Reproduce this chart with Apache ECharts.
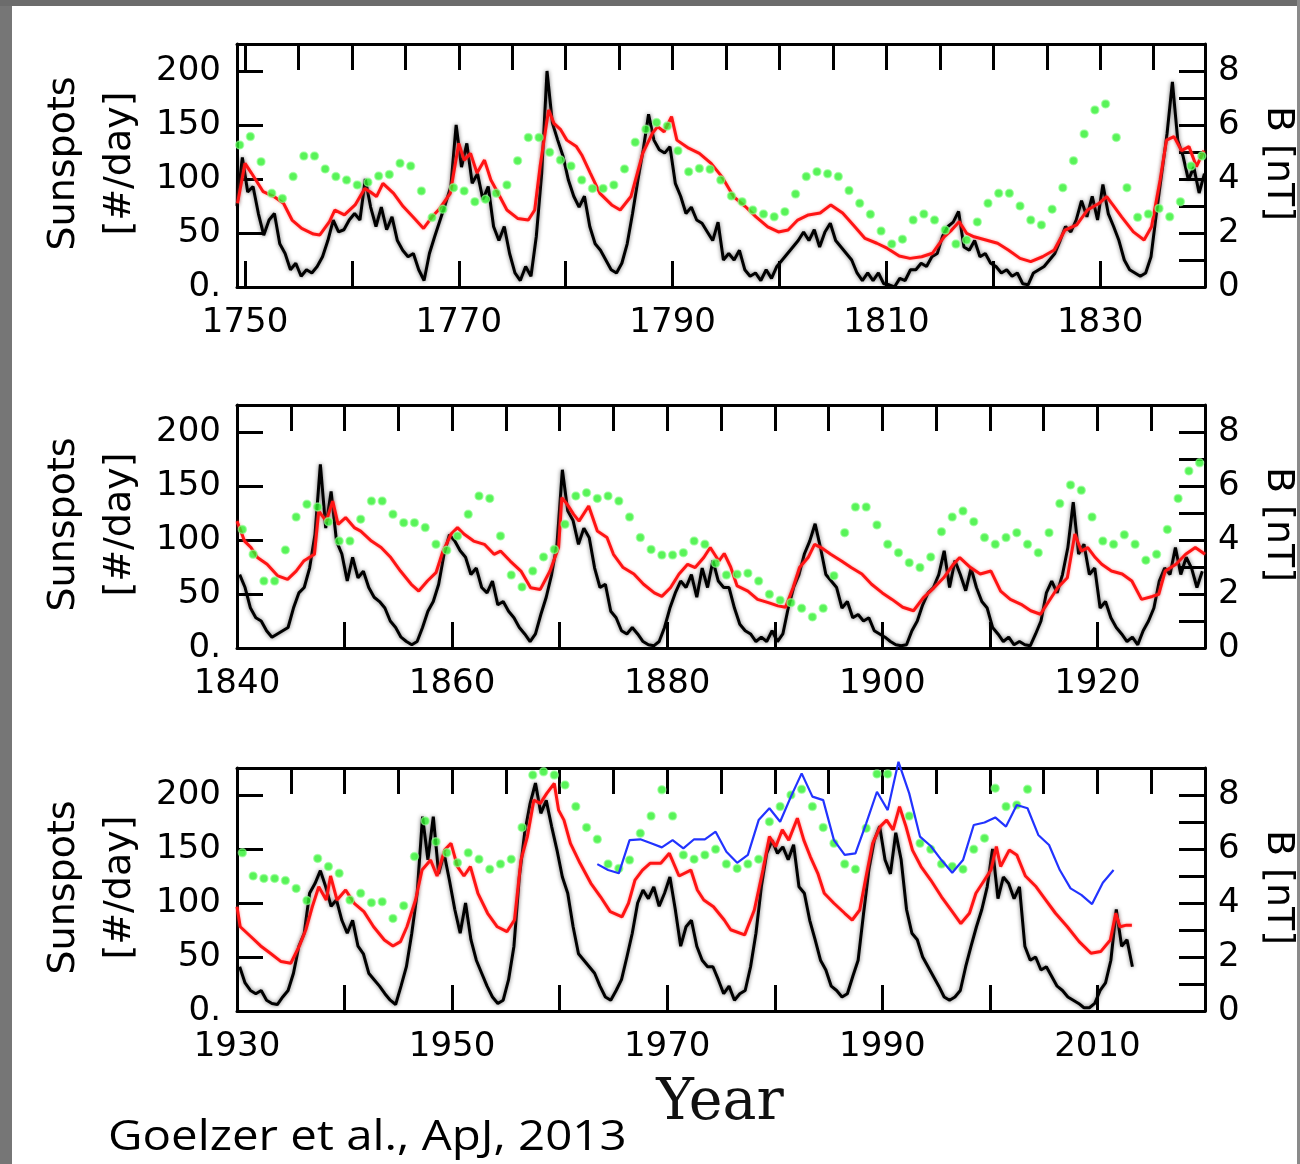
<!DOCTYPE html>
<html><head><meta charset="utf-8">
<script src="https://cdn.jsdelivr.net/npm/echarts@6/dist/echarts.min.js"></script>
<style>html,body{margin:0;padding:0;background:#fff}#c{width:1300px;height:1164px}</style>
</head><body><div id="c"></div>
<script>
// ---------------- DATA ----------------
// Sunspot number (#/day), sampled every half year starting at the given year
const sunspotStart = [1749.25, 1840.25, 1930.25];
const sunspots1 = [
75,120, 88,93, 68,48, 62,68, 40,31, 16,22, 10,16, 13,19, 28,43, 62,51,
53,62, 68,62, 100,74, 56,74, 53,65, 43,34, 28,31, 16,6, 31,47, 62,77,
93,150, 111,133, 96,105, 81,93, 56,43, 56,31, 13,6, 19,10, 47,105, 200,152,
136,121, 99,84, 74,84, 56,40, 34,25, 16,13, 22,40, 68,99, 127,160, 136,127,
124,130, 96,84, 68,74, 62,59, 51,43, 60,25, 31,25, 34,16, 10,13, 6,16,
8,19, 25,31, 37,43, 51,43, 53,37, 51,59, 43,37, 31,25, 13,6, 13,6,
13,3, 2,0, 8,6, 16,16, 22,19, 28,31, 47,56, 60,70, 37,34, 43,28,
31,22, 19,13, 16,10, 13,3, 2,13, 16,19, 25,31, 43,56, 51,62, 80,65,
84,62, 95,68, 56,43, 25,16, 13,10, 13,28, 68,105, 142,190, 136,121, 99,111,
87,105
];
const sunspots2 = [
68,56, 37,28, 25,16, 10,13, 16,19, 37,51, 56,74, 105,170, 111,145, 99,87,
62,84, 65,71, 56,47, 43,37, 25,19, 10,6, 3,6, 19,34, 43,59, 87,105,
99,90, 84,68, 74,56, 51,62, 40,43, 34,28, 19,13, 6,13, 31,47, 68,96,
165,127, 118,96, 111,102, 74,56, 59,34, 28,16, 13,19, 13,6, 3,2, 6,19,
37,51, 62,56, 68,47, 74,56, 81,62, 56,56, 37,22, 16,13, 6,10, 6,16,
6,13, 37,56, 68,87, 99,115, 93,68, 62,56, 37,43, 28,31, 25,28, 16,13,
10,6, 3,2, 3,16, 25,40, 51,56, 68,90, 56,81, 68,53, 74,56, 43,37,
19,13, 6,10, 3,6, 3,2, 13,25, 51,62, 51,68, 93,135, 87,96, 68,74,
37,43, 28,19, 13,6, 10,3, 16,25, 37,62, 74,68, 93,68, 84,74, 56,71
];
const sunspots3 = [
41,26, 19,16, 19,10, 7,6, 13,19, 35,60, 72,109, 118,130, 115,97, 103,84,
72,84, 60,53, 35,29, 23,16, 10,6, 23,41, 72,109, 180,140, 180,127, 146,121,
94,72, 100,66, 47,35, 23,13, 7,10, 29,60, 124,165, 192,211, 183,195, 171,149,
124,109, 78,53, 47,41, 35,23, 13,10, 19,29, 50,72, 100,112, 104,115, 97,109,
124,94, 60,78, 84,60, 47,41, 41,29, 16,23, 10,16, 19,41, 72,115, 146,158,
146,152, 140,154, 115,109, 84,66, 47,38, 23,19, 13,16, 32,47, 90,131, 158,171,
140,127, 165,140, 94,72, 66,50, 41,32, 23,13, 10,13, 19,41, 60,78, 94,115,
150,104, 124,118, 104,115, 60,47, 50,38, 41,32, 23,19, 13,10, 7,3, 3,7,
19,26, 47,94, 60,66, 41
];

// Modelled field B (nT), [year, value]
const red1 = [
[1749.3,3.10],[1750.0,4.58],[1750.6,4.22],[1751.7,3.53],[1752.7,3.35],[1753.6,3.10],[1754.4,2.48],[1755.3,2.17],[1756.4,1.96],[1757.0,1.93],
[1757.9,2.42],[1758.4,2.85],[1759.3,2.67],[1760.3,3.04],[1761.2,3.65],[1761.7,3.53],[1762.3,3.35],[1762.9,3.84],[1763.9,3.47],[1764.8,2.98],
[1765.7,2.60],[1766.7,2.17],[1767.5,2.60],[1768.2,2.90],[1769.2,3.47],[1770.0,5.32],[1770.5,4.70],[1771.1,4.95],[1771.7,4.22],[1772.4,4.70],
[1773.0,3.96],[1773.6,3.53],[1774.5,2.85],[1775.5,2.54],[1776.5,2.48],[1777.1,2.85],[1777.6,4.46],[1778.4,6.56],[1778.9,6.06],[1779.5,5.84],
[1780.1,5.44],[1781.0,5.20],[1781.5,4.89],[1782.3,4.22],[1783.2,3.47],[1784.3,3.04],[1785.1,2.85],[1786.1,3.35],[1786.7,4.22],[1787.2,4.95],
[1788.1,5.69],[1788.6,5.94],[1789.2,5.75],[1789.9,6.31],[1790.4,5.44],[1791.5,5.14],[1792.5,4.95],[1793.6,4.58],[1794.6,4.09],[1795.7,3.35],
[1796.8,2.98],[1797.8,2.60],[1798.9,2.23],[1799.9,2.04],[1800.8,2.11],[1801.7,2.48],[1802.7,2.67],[1803.8,2.74],[1804.8,3.04],[1805.9,2.74],
[1806.9,2.30],[1808.0,1.80],[1809.1,1.62],[1810.1,1.43],[1811.2,1.15],[1812.2,1.06],[1813.3,1.12],[1814.3,1.25],[1815.4,1.86],[1816.1,2.11],
[1816.8,2.42],[1817.5,1.99],[1818.2,1.86],[1819.3,1.74],[1820.4,1.62],[1821.4,1.37],[1822.5,1.06],[1823.5,0.94],[1824.6,1.12],[1825.7,1.37],
[1826.7,2.11],[1827.8,2.30],[1828.8,2.85],[1829.9,3.10],[1830.6,3.35],[1831.3,2.98],[1832.0,2.60],[1833.1,2.04],[1834.1,1.74],[1834.8,2.23],
[1835.6,3.96],[1836.2,5.44],[1836.9,5.57],[1837.6,5.05],[1838.3,5.20],[1839.0,4.46],[1839.7,5.05]
];
const red2 = [
[1840.0,4.70],[1840.7,3.96],[1841.3,3.72],[1841.9,3.35],[1842.8,3.10],[1843.8,2.67],[1844.7,2.54],[1845.5,2.85],[1846.2,3.22],[1847.2,3.47],
[1847.6,5.07],[1848.3,4.70],[1848.9,5.44],[1849.4,4.58],[1850.1,4.83],[1850.9,4.46],[1851.5,4.33],[1852.5,3.96],[1853.4,3.72],[1854.3,3.35],
[1855.2,2.85],[1856.2,2.36],[1856.9,2.11],[1857.7,2.48],[1858.5,2.79],[1859.1,3.53],[1859.9,4.22],[1860.5,4.46],[1861.1,4.22],[1862.0,3.96],
[1863.0,3.84],[1863.9,3.47],[1864.5,3.59],[1865.4,3.22],[1866.4,2.85],[1867.3,2.23],[1868.2,2.17],[1869.1,2.85],[1869.9,3.72],[1870.2,5.57],
[1870.7,5.32],[1871.3,4.95],[1871.8,4.70],[1872.7,5.26],[1873.5,4.33],[1874.4,4.09],[1875.0,3.47],[1875.9,2.98],[1876.9,2.74],[1877.8,2.36],
[1878.8,2.04],[1879.5,1.91],[1880.3,2.23],[1881.1,2.74],[1881.9,3.10],[1882.6,2.98],[1883.4,3.35],[1884.0,3.72],[1884.8,3.22],[1885.3,3.50],
[1885.9,3.00],[1886.5,2.30],[1887.5,2.11],[1888.4,1.80],[1889.4,1.68],[1890.3,1.56],[1891.0,1.51],[1891.7,2.23],[1892.3,2.98],[1893.1,3.35],
[1893.7,3.84],[1894.3,3.72],[1895.2,3.47],[1896.2,3.22],[1897.1,2.98],[1898.1,2.74],[1899.0,2.36],[1900.0,2.04],[1900.9,1.80],[1901.9,1.51],
[1902.9,1.38],[1903.8,1.86],[1904.8,2.23],[1905.7,2.60],[1906.6,3.10],[1907.2,3.35],[1908.2,2.98],[1909.1,2.74],[1910.1,2.85],[1911.0,2.11],
[1911.9,1.80],[1912.9,1.62],[1913.8,1.38],[1914.7,1.25],[1915.5,1.74],[1916.3,2.23],[1917.2,2.60],[1917.9,4.22],[1918.5,3.59],[1919.1,3.72],
[1919.8,3.35],[1920.4,3.10],[1921.3,2.85],[1922.3,2.74],[1923.2,2.48],[1924.1,1.80],[1925.1,1.91],[1925.7,1.99],[1926.3,2.85],[1927.3,3.10],
[1928.2,3.47],[1929.1,3.72],[1930.0,3.47]
];
const red3 = [
[1930.0,3.86],[1930.3,3.12],[1931.3,2.75],[1932.2,2.41],[1933.1,2.14],[1934.1,1.83],[1935.0,1.77],[1935.8,2.41],[1936.4,3.01],[1937.0,3.86],
[1937.6,4.60],[1938.3,4.11],[1938.7,5.00],[1939.3,4.11],[1940.1,4.48],[1940.9,3.99],[1941.8,3.68],[1942.7,3.12],[1943.7,2.63],[1944.5,2.41],
[1945.2,2.57],[1945.8,3.12],[1946.6,4.11],[1947.2,5.22],[1948.0,5.59],[1948.6,5.00],[1949.3,5.96],[1949.9,6.21],[1950.5,5.35],[1951.1,5.00],
[1951.7,5.35],[1952.4,4.36],[1953.3,3.62],[1954.2,3.12],[1955.1,2.94],[1955.8,3.37],[1956.4,5.59],[1957.0,6.46],[1957.6,7.81],[1958.2,7.69],
[1958.8,8.06],[1959.5,8.43],[1959.9,7.44],[1960.4,7.07],[1961.0,6.21],[1961.9,5.47],[1962.9,4.73],[1963.8,4.23],[1964.7,3.68],[1965.8,3.49],
[1966.4,3.99],[1967.0,4.85],[1967.7,5.22],[1968.4,5.47],[1969.4,5.47],[1970.2,5.84],[1971.1,5.00],[1972.2,5.22],[1972.8,4.48],[1973.4,4.11],
[1974.3,3.86],[1975.3,3.37],[1975.9,3.01],[1977.2,2.82],[1978.1,3.74],[1978.9,5.22],[1979.5,6.46],[1980.1,6.09],[1980.7,6.71],[1981.3,6.33],
[1982.1,7.14],[1982.7,6.33],[1983.3,5.72],[1984.0,5.10],[1984.6,4.36],[1985.5,3.99],[1986.5,3.62],[1987.2,3.37],[1987.9,3.74],[1988.5,5.00],
[1989.1,6.21],[1989.8,6.83],[1990.4,7.07],[1991.0,6.71],[1991.6,7.57],[1992.2,6.83],[1992.8,5.96],[1993.6,5.35],[1994.5,4.85],[1995.5,4.23],
[1996.4,3.74],[1997.3,3.24],[1998.1,3.62],[1998.7,4.36],[1999.5,4.85],[2000.1,5.22],[2000.6,6.09],[2001.0,5.35],[2001.8,5.96],[2002.5,5.78],
[2003.3,5.00],[2004.3,4.60],[2005.2,4.11],[2006.1,3.62],[2007.2,3.12],[2008.3,2.57],[2009.4,2.14],[2010.3,2.20],[2011.2,2.63],[2011.7,3.62],
[2012.1,3.12],[2012.7,3.18],[2013.2,3.18]
];

// Geomagnetic B reconstruction (nT), one per year (mid-year)
const greenStart = [1749, 1840, 1930];
const green1 = [
5.26,5.57,4.64,3.47,3.28,4.09,4.85,4.85,4.37,4.09,
3.96,3.78,3.88,4.11,4.17,4.58,4.48,3.56,2.57,2.88,
3.68,3.56,3.16,3.25,3.47,3.78,4.68,5.54,5.54,4.99,
4.70,4.48,3.96,3.65,3.65,3.78,4.37,5.36,5.84,6.09,
5.96,5.05,4.27,4.39,4.36,3.96,3.37,3.16,2.85,2.70,
2.60,2.79,3.44,4.09,4.27,4.19,4.09,3.57,3.10,2.69,
2.07,1.59,1.77,2.48,2.70,2.48,2.11,1.59,1.74,2.41,
3.10,3.47,3.47,3.00,2.48,2.30,2.88,3.68,4.68,5.67,
6.56,6.78,5.54,3.68,2.58,2.70,2.91,2.60,3.16,4.48,
4.85
];
const green2 = [
4.39,3.47,2.48,2.48,3.63,4.85,5.32,5.22,4.68,3.96,
3.96,4.77,5.44,5.44,4.95,4.64,4.64,4.46,3.84,3.62,
4.15,4.95,5.63,5.54,4.15,2.70,2.26,2.85,3.37,3.65,
4.58,5.63,5.75,5.54,5.63,5.44,4.85,4.09,3.65,3.44,
3.44,3.53,3.96,3.84,3.14,2.70,2.73,2.77,2.48,1.99,
1.77,1.68,1.47,1.15,1.47,2.68,4.27,5.22,5.22,4.56,
3.84,3.53,3.16,2.98,3.37,4.31,4.85,5.07,4.68,4.09,
3.84,4.09,4.27,3.84,3.53,4.27,5.35,6.04,5.84,4.85,
3.96,3.84,4.19,3.84,3.25,3.47,4.39,5.54,6.56,6.86
];
const green3 = [
5.86,5.00,4.91,4.91,4.83,4.54,4.09,5.65,5.35,5.10,
4.11,4.36,4.01,4.05,3.43,3.90,5.72,7.04,6.27,5.86,
5.49,5.86,5.62,5.25,5.44,5.62,6.80,8.74,8.86,8.74,
8.37,7.57,6.80,6.36,5.44,5.28,5.59,6.58,7.22,8.19,
7.22,5.78,5.62,5.78,5.99,5.44,5.28,5.44,5.62,7.01,
7.57,8.00,8.21,7.57,6.80,6.21,5.44,5.25,6.77,8.78,
8.78,null,7.22,6.21,5.99,5.44,5.35,5.25,5.99,6.40,
8.25,7.57,7.63,8.21
];

// Measured B (nT), yearly means from 1963
const blueStart = 1963;
const blue = [
5.44,5.22,5.10,6.33,6.36,6.21,6.06,6.33,6.02,6.36,
6.36,6.64,5.90,5.49,5.78,7.07,7.51,7.01,7.94,8.80,
7.94,7.81,6.33,5.78,5.84,6.95,8.12,7.44,9.23,8.06,
6.46,6.11,5.59,5.12,5.59,6.89,6.98,7.17,6.83,7.63,
7.51,6.52,6.15,5.22,4.54,4.30,3.96,4.75,5.22
];

// Axis ranges and tick labels
const xRanges = [[1749.25, 1839.8], [1840, 1930], [1930, 2020]];
const xLabels = [[1750,1770,1790,1810,1830],[1840,1860,1880,1900,1920],[1930,1950,1970,1990,2010]];
const leftLabels = [0, 50, 100, 150, 200];
const rightTicks = [0, 1, 2, 3, 4, 5, 6, 7, 8];
const rightLabels = [0, 2, 4, 6, 8];

// ---------------- CHART ----------------
const sunspots = [sunspots1, sunspots2, sunspots3];
const reds = [red1, red2, red3];
const greens = [green1, green2, green3];
const tops = [44, 405, 768];
const H = 243;
const labelFont = 'DejaVu Sans';

function ticksBetween(min, max, step) {
  const out = [];
  for (let v = Math.ceil(min / step) * step; v <= max + 1e-9; v += step) out.push(v);
  return out;
}

const grid = [], xAxis = [], yAxis = [], series = [], graphic = [];
const axisLine = { show: true, onZero: false, lineStyle: { color: '#000', width: 3 } };
const tickStyle = { color: '#000', width: 3 };

for (let i = 0; i < 3; i++) {
  grid.push({ left: 237, top: tops[i], width: 968, height: H });
  const [mn, mx] = xRanges[i];
  xAxis.push({
    type: 'value', gridIndex: i, position: 'bottom', min: mn, max: mx,
    axisLine: axisLine, splitLine: { show: false },
    axisTick: { show: true, inside: true, length: 26, lineStyle: tickStyle, customValues: ticksBetween(mn, mx, 10) },
    axisLabel: { customValues: xLabels[i], color: '#000', fontFamily: labelFont, fontSize: 34, margin: 19,
      formatter: v => String(v) }
  });
  xAxis.push({
    type: 'value', gridIndex: i, position: 'top', min: mn, max: mx,
    axisLine: axisLine, splitLine: { show: false },
    axisTick: { show: true, inside: true, length: 26, lineStyle: tickStyle, customValues: ticksBetween(mn, mx, 5) },
    axisLabel: { show: false }
  });
  yAxis.push({
    type: 'value', gridIndex: i, position: 'left', min: 0, max: 225,
    axisLine: axisLine, splitLine: { show: false },
    axisTick: { show: true, inside: true, length: 26, lineStyle: tickStyle, customValues: leftLabels },
    axisLabel: { customValues: leftLabels, color: '#000', fontFamily: labelFont, fontSize: 34, margin: 16,
      formatter: v => (v === 0 ? '0.' : String(v)) }
  });
  yAxis.push({
    type: 'value', gridIndex: i, position: 'right', min: 0, max: 9,
    axisLine: axisLine, splitLine: { show: false },
    axisTick: { show: true, inside: true, length: 26, lineStyle: tickStyle, customValues: rightTicks },
    axisLabel: { customValues: rightLabels, color: '#000', fontFamily: labelFont, fontSize: 34, margin: 13 }
  });

  const s0 = sunspotStart[i];
  series.push({
    type: 'line', xAxisIndex: 2 * i, yAxisIndex: 2 * i, showSymbol: false, z: 2,
    lineStyle: { color: '#000', width: 3, shadowColor: 'rgba(0,0,0,0.55)', shadowBlur: 4 },
    data: sunspots[i].map((v, k) => [s0 + 0.5 * k, v])
  });
  series.push({
    type: 'line', xAxisIndex: 2 * i, yAxisIndex: 2 * i + 1, showSymbol: false, z: 3,
    lineStyle: { color: '#ff1414', width: 3, shadowColor: 'rgba(255,90,90,0.6)', shadowBlur: 3 },
    data: reds[i]
  });
  const g0 = greenStart[i];
  series.push({
    type: 'scatter', xAxisIndex: 2 * i, yAxisIndex: 2 * i + 1, z: 4,
    symbol: 'circle', symbolSize: 8,
    itemStyle: { color: '#2ef02e', borderColor: 'rgba(150,255,150,0.8)', borderWidth: 1.5 },
    data: greens[i].map((v, k) => [g0 + k + 0.5, v]).filter(d => d[1] !== null)
  });
  if (i === 2) {
    series.push({
      type: 'line', xAxisIndex: 4, yAxisIndex: 5, showSymbol: false, z: 5, clip: false,
      lineStyle: { color: '#2233ff', width: 2.2 },
      data: blue.map((v, k) => [blueStart + k + 0.5, v])
    });
  }

  const cy = tops[i] + H / 2 - 2;
  graphic.push({ type: 'text', x: 64, y: cy, rotation: Math.PI / 2,
    style: { text: 'Sunspots', font: '38px DejaVu Sans', fill: '#000', textAlign: 'center', textVerticalAlign: 'middle' } });
  graphic.push({ type: 'text', x: 120, y: cy, rotation: Math.PI / 2,
    style: { text: '[#/day]', font: '38px DejaVu Sans', fill: '#000', textAlign: 'center', textVerticalAlign: 'middle' } });
  graphic.push({ type: 'text', x: 1278, y: cy, rotation: -Math.PI / 2,
    style: { text: 'B [nT]', font: '38px DejaVu Sans', fill: '#000', textAlign: 'center', textVerticalAlign: 'middle' } });
}

graphic.push({ type: 'text', x: 720, y: 1104,
  style: { text: 'Year', font: '57px DejaVu Serif', fill: '#111', textAlign: 'center', textVerticalAlign: 'middle' } });
graphic.push({ type: 'text', x: 108, y: 1138, scaleX: 1.13,
  style: { text: 'Goelzer et al., ApJ, 2013', font: '42px Open Sans', fill: '#000', textAlign: 'left', textVerticalAlign: 'middle' } });
// slide frame (grey border)
graphic.push({ type: 'rect', shape: { x: 0, y: 0, width: 12, height: 1164 }, style: { fill: '#767676' }, z: 10 });
graphic.push({ type: 'rect', shape: { x: 0, y: 0, width: 1300, height: 6 }, style: { fill: '#6c6c6c' }, z: 10 });
graphic.push({ type: 'rect', shape: { x: 1297, y: 0, width: 3, height: 1164 }, style: { fill: '#8a8a8a' }, z: 10 });

const chart = echarts.init(document.getElementById('c'));
chart.setOption({
  animation: false,
  backgroundColor: '#fff',
  grid, xAxis, yAxis, series, graphic
});
</script>
</body></html>
